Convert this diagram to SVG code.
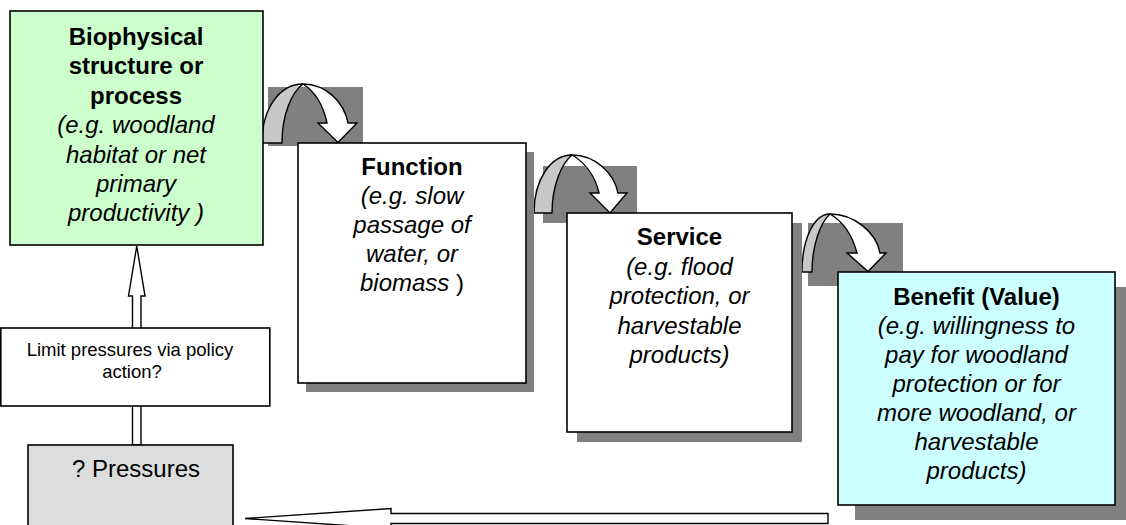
<svg xmlns="http://www.w3.org/2000/svg" width="1126" height="525" viewBox="0 0 1126 525">
<style>
text{font-family:"Liberation Sans",Arial,sans-serif;font-size:24px;fill:#000;text-anchor:middle}
.b{font-weight:bold}
.i{font-style:italic}
.box{stroke:#000;stroke-width:1.6}
.sh{fill:#808080}
.bd{fill:#808080}
.cres{fill:#c8c8c8;stroke:#000;stroke-width:1.4;stroke-linejoin:round}
.band{fill:#fff;stroke:#000;stroke-width:1.4;stroke-linejoin:miter}
.blk{fill:#fff;stroke:#000;stroke-width:1.4;stroke-linejoin:miter}
.sm{font-size:18.5px}
</style>
<rect width="1126" height="525" fill="#fff"/>
<g id="connectors">
  <g id="curved-arrow-1">
    <rect class="bd" x="268" y="87" width="95" height="59"/>
    <g transform="translate(262,84)">
      <path class="cres" d="M0,59 C0,24 18,0 41,0 C30,8 20,30 20,59 Z"/>
      <path class="band" d="M41,0 C64,0 82,18 86,39 L95,39 L76,58.5 L56,39 L65,39 C61,20 52,7 41,0 Z"/>
    </g>
  </g>
  <g id="curved-arrow-2">
    <rect class="bd" x="543" y="166" width="94" height="57"/>
    <g transform="translate(534,155)">
      <path class="cres" d="M0,58 C0,24 17,0 38,0 C28,8 18,30 18,58 Z"/>
      <path class="band" d="M38,0 C61,0 80,18 84,38 L93,38 L76,58 L56,38 L65,38 C61,20 50,7 38,0 Z"/>
    </g>
  </g>
  <g id="curved-arrow-3">
    <rect class="bd" x="808" y="223" width="95" height="63"/>
    <g transform="translate(802,214)">
      <path class="cres" d="M0,58 C0,25 12,0 28,0 C19,8 10,30 10,58 Z"/>
      <path class="band" d="M28,0 C52,0 74,18 78,39 L84,39 L66,57.5 L45,39 L55,39 C50,20 40,7 28,0 Z"/>
    </g>
  </g>
  <polygon id="up-arrow" class="blk" points="136.75,246 145,296 141,296 141,445 132.5,445 132.5,296 128.5,296"/>
  <polygon id="back-arrow" class="blk" points="245,518.5 391,508.5 391,513.5 828,513.5 828,523.5 391,523.5 391,528.5"/>
</g>
<g id="n-biophysical">
  <rect class="box" x="10" y="11" width="253" height="234" fill="#ccffcc"/>
  <text x="136" y="45" class="b">Biophysical</text>
  <text x="136" y="74.4" class="b">structure or</text>
  <text x="136" y="103.8" class="b">process</text>
  <text x="136" y="133.2" class="i">(e.g. woodland</text>
  <text x="136" y="162.6" class="i">habitat or net</text>
  <text x="136" y="192" class="i">primary</text>
  <text x="136" y="221.4" class="i">productivity )</text>
</g>
<g id="n-function">
  <rect class="sh" x="306" y="152" width="228" height="240"/>
  <rect class="box" x="298" y="143" width="228" height="240" fill="#fff"/>
  <text x="412" y="175" class="b">Function</text>
  <text x="412" y="204" class="i">(e.g. slow</text>
  <text x="412" y="233" class="i">passage of</text>
  <text x="412" y="262" class="i">water, or</text>
  <text x="412" y="291"><tspan class="i">biomass</tspan> )</text>
</g>
<g id="n-service">
  <rect class="sh" x="577" y="223" width="225" height="219"/>
  <rect class="box" x="567" y="213" width="225" height="219" fill="#fff"/>
  <text x="679.5" y="245" class="b">Service</text>
  <text x="679.5" y="274.5" class="i">(e.g. flood</text>
  <text x="679.5" y="304" class="i">protection, or</text>
  <text x="679.5" y="333.5" class="i">harvestable</text>
  <text x="679.5" y="363" class="i">products)</text>
</g>
<g id="n-benefit">
  <rect class="sh" x="855" y="287" width="277" height="233"/>
  <rect class="box" x="838" y="272" width="277" height="233" fill="#ccffff"/>
  <text x="976.5" y="305" class="b">Benefit (Value)</text>
  <text x="976.5" y="334" class="i">(e.g. willingness to</text>
  <text x="976.5" y="363" class="i">pay for woodland</text>
  <text x="976.5" y="392" class="i">protection or for</text>
  <text x="976.5" y="421" class="i">more woodland, or</text>
  <text x="976.5" y="450" class="i">harvestable</text>
  <text x="976.5" y="479" class="i">products)</text>
</g>
<g id="n-limit">
  <rect class="box" x="0.8" y="328" width="269" height="78" fill="#fff"/>
  <text x="130" y="356" class="sm">Limit pressures via policy</text>
  <text x="132" y="378" class="sm">action?</text>
</g>
<g id="n-pressures">
  <rect class="box" x="28" y="445" width="205" height="90" fill="#dddddd"/>
  <text x="72" y="477" style="text-anchor:start">? Pressures</text>
</g>
</svg>
